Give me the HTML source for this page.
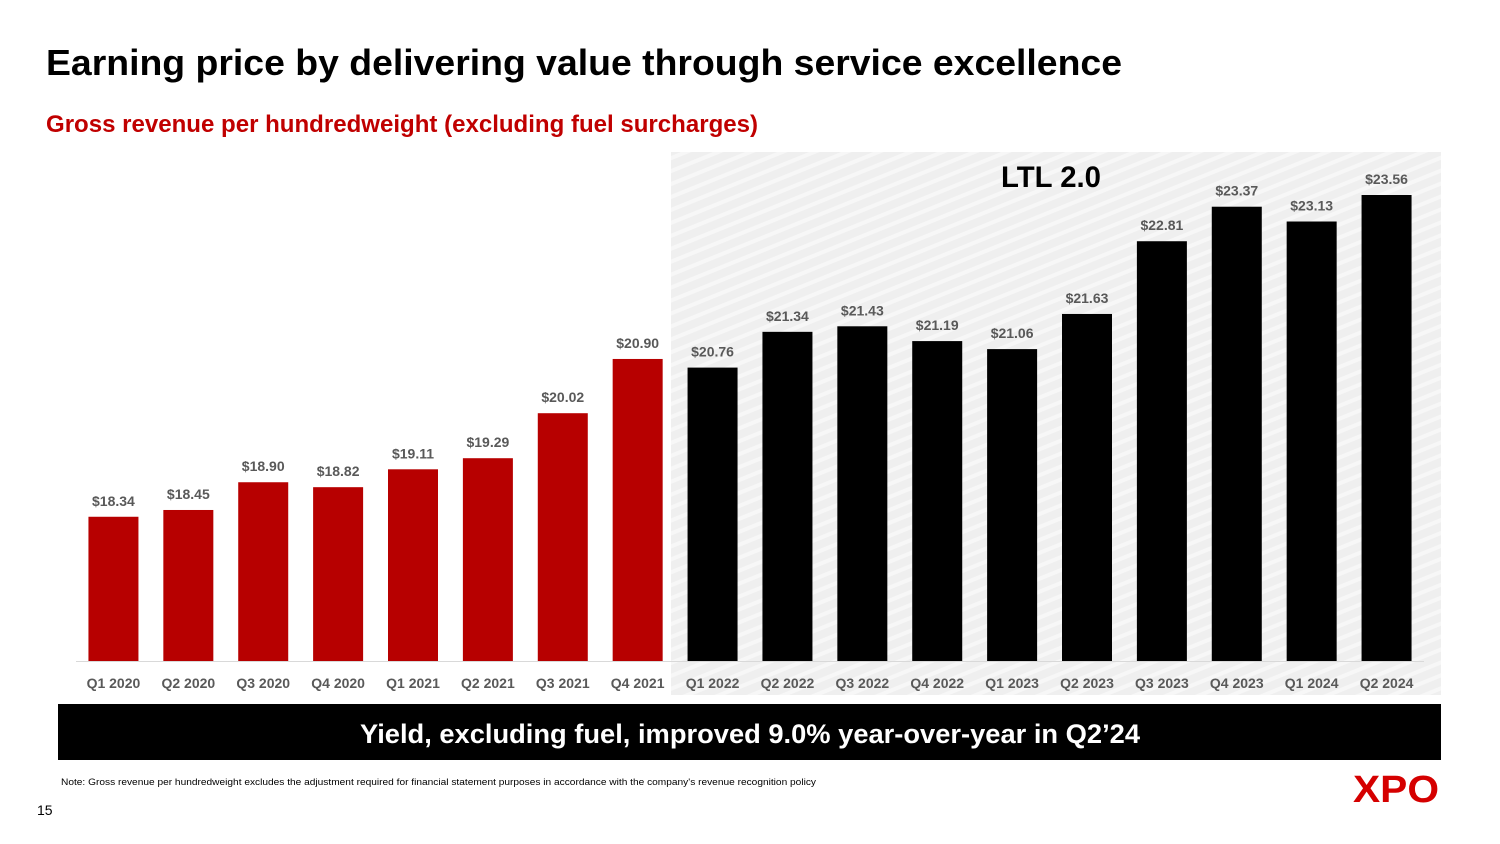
<!DOCTYPE html>
<html><head><meta charset="utf-8"><style>
html,body{margin:0;padding:0;background:#fff;}
svg{display:block;font-family:"Liberation Sans",sans-serif;}
</style></head><body>
<svg id="c" width="1500" height="844" viewBox="0 0 1500 844" xmlns="http://www.w3.org/2000/svg">
<defs>
<pattern id="hatch" width="12" height="12" patternUnits="userSpaceOnUse" patternTransform="rotate(-22)">
<rect width="12" height="12" fill="#efefef"/>
<rect y="0" width="12" height="4" fill="#f7f7f7"/>
</pattern>
</defs>
<text x="46" y="75" font-size="36" font-weight="bold" fill="#000" textLength="1076" lengthAdjust="spacingAndGlyphs">Earning price by delivering value through service excellence</text>
<text x="46" y="132" font-size="24" font-weight="bold" fill="#c00000" textLength="712" lengthAdjust="spacingAndGlyphs">Gross revenue per hundredweight (excluding fuel surcharges)</text>
<rect x="671" y="152" width="770" height="543" fill="url(#hatch)"/>
<text x="1051" y="187" font-size="30" font-weight="bold" fill="#000" text-anchor="middle" textLength="100" lengthAdjust="spacingAndGlyphs">LTL 2.0</text>
<g id="bars"></g>
<line x1="76" y1="661.5" x2="1424" y2="661.5" stroke="#d9d9d9" stroke-width="1"/>
<rect x="58" y="704" width="1383" height="56" fill="#000"/>
<text x="750" y="743" font-size="27" font-weight="bold" fill="#fff" text-anchor="middle" textLength="780" lengthAdjust="spacingAndGlyphs">Yield, excluding fuel, improved 9.0% year-over-year in Q2’24</text>
<text x="61" y="785" font-size="9" fill="#000" textLength="755" lengthAdjust="spacingAndGlyphs">Note: Gross revenue per hundredweight excludes the adjustment required for financial statement purposes in accordance with the company's revenue recognition policy</text>
<text x="37" y="815" font-size="14" fill="#000">15</text>
<text x="1396" y="802" font-size="38" font-weight="bold" fill="#d50000" text-anchor="middle" textLength="86" lengthAdjust="spacingAndGlyphs">XPO</text>
</svg>
<script>
const categories=["Q1 2020","Q2 2020","Q3 2020","Q4 2020","Q1 2021","Q2 2021","Q3 2021","Q4 2021","Q1 2022","Q2 2022","Q3 2022","Q4 2022","Q1 2023","Q2 2023","Q3 2023","Q4 2023","Q1 2024","Q2 2024"];
const values=[18.34,18.45,18.90,18.82,19.11,19.29,20.02,20.90,20.76,21.34,21.43,21.19,21.06,21.63,22.81,23.37,23.13,23.56];
const valueLabels=["$18.34","$18.45","$18.90","$18.82","$19.11","$19.29","$20.02","$20.90","$20.76","$21.34","$21.43","$21.19","$21.06","$21.63","$22.81","$23.37","$23.13","$23.56"];
const ltlStartIndex=8;
const yMin=16.0, yMax=23.56;
const plotLeft=76, plotRight=1424, baseY=661, topY=195;
const band=(plotRight-plotLeft)/categories.length;
function xScale(i){return plotLeft+band*(i+0.5);}
function yScale(v){return baseY-(v-yMin)/(yMax-yMin)*(baseY-topY);}
const NS="http://www.w3.org/2000/svg";
const g=document.getElementById('bars');
categories.forEach((cat,i)=>{
  const cx=xScale(i), y=yScale(values[i]), w=50;
  const r=document.createElementNS(NS,'rect');
  
  
  r.setAttribute('x',cx-w/2);r.setAttribute('y',y);r.setAttribute('width',w);r.setAttribute('height',baseY-y);
  r.setAttribute('fill',i<ltlStartIndex?'#b70000':'#000');
  g.appendChild(r);
  const t=document.createElementNS(NS,'text');
  
  
  t.setAttribute('x',cx);t.setAttribute('y',y-11);t.setAttribute('text-anchor','middle');
  t.setAttribute('font-size','14');t.setAttribute('font-weight','bold');t.setAttribute('fill','#595959');
  t.textContent=valueLabels[i];
  g.appendChild(t);
  const c=document.createElementNS(NS,'text');
  
  
  c.setAttribute('x',cx);c.setAttribute('y',688);c.setAttribute('text-anchor','middle');
  c.setAttribute('font-size','14');c.setAttribute('font-weight','bold');c.setAttribute('fill','#595959');
  c.textContent=cat;
  g.appendChild(c);
});
</script>
</body></html>
